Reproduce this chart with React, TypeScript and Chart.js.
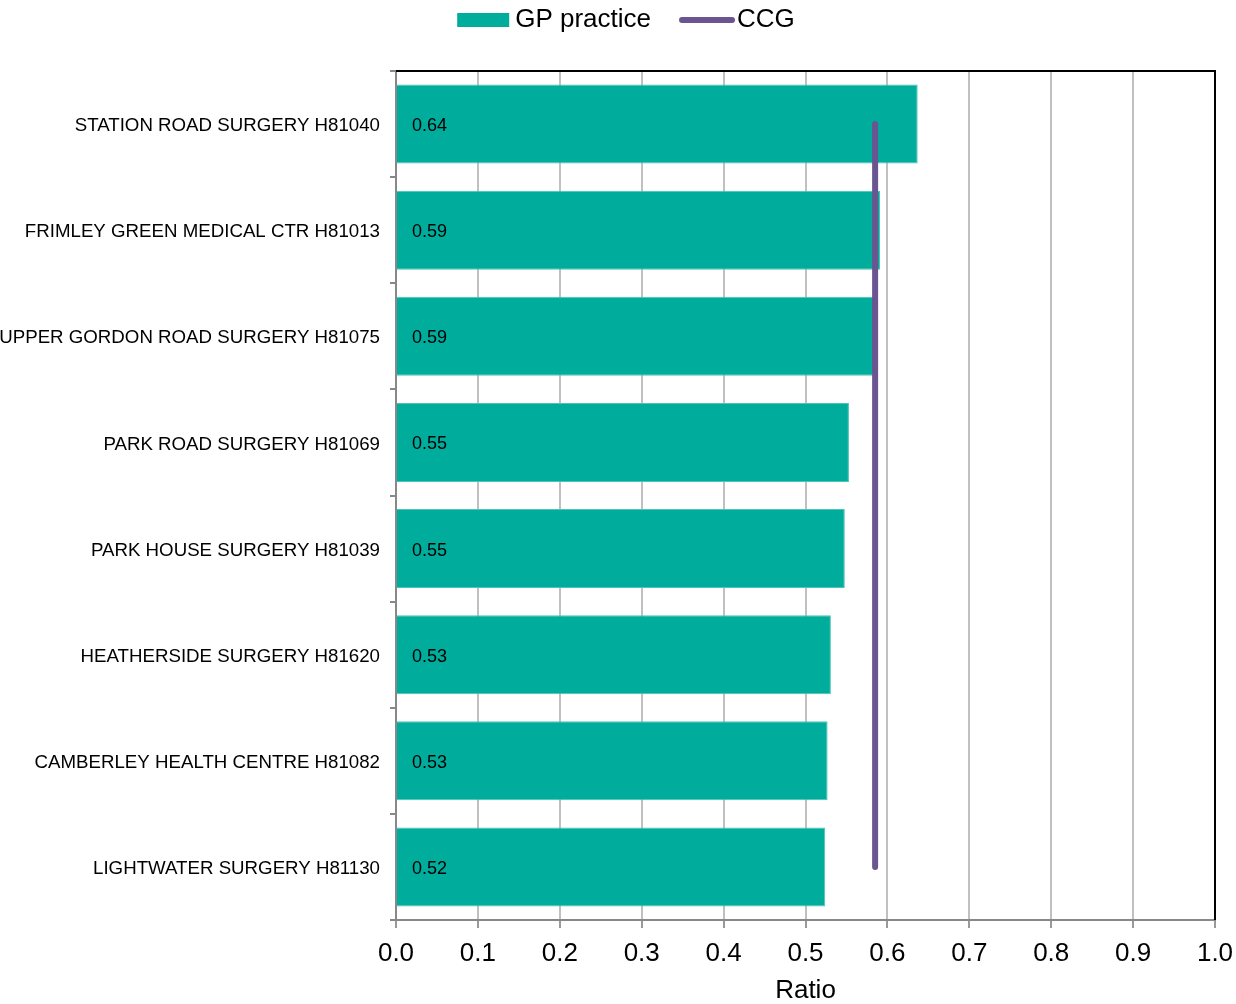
import React, { useEffect, useRef } from 'react';
import { Chart, registerables } from 'chart.js';

Chart.register(...registerables);

const categories = [
  'STATION ROAD SURGERY H81040',
  'FRIMLEY GREEN MEDICAL CTR H81013',
  'UPPER GORDON ROAD SURGERY H81075',
  'PARK ROAD SURGERY H81069',
  'PARK HOUSE SURGERY H81039',
  'HEATHERSIDE SURGERY H81620',
  'CAMBERLEY HEALTH CENTRE H81082',
  'LIGHTWATER SURGERY H81130',
];
const gpValues = [0.637, 0.591, 0.587, 0.553, 0.548, 0.531, 0.527, 0.524];
const ccgValues = [0.585, 0.585, 0.585, 0.585, 0.585, 0.585, 0.585, 0.585];
const seriesNames = ['GP practice', 'CCG'];
const axisTitle = 'Ratio';

const TEAL = '#00AC9C';
const PURPLE = '#6B5591';
const FONT = '"Liberation Sans", Arial, sans-serif';

const extrasPlugin = {
  id: 'extras',
  afterDatasetsDraw(chart: any) {
    const { ctx, chartArea } = chart;
    const meta = chart.getDatasetMeta(0);
    ctx.save();
    ctx.fillStyle = '#000';
    ctx.font = `18px ${FONT}`;
    ctx.textAlign = 'left';
    ctx.textBaseline = 'middle';
    meta.data.forEach((bar: any, i: number) => {
      ctx.fillText(gpValues[i].toFixed(2), chartArea.left + 16, bar.y + 2);
    });
    ctx.restore();
  },
  afterDraw(chart: any) {
    const { ctx, chartArea, width } = chart;
    ctx.save();
    // black top and right border
    ctx.strokeStyle = '#000';
    ctx.lineWidth = 2;
    ctx.beginPath();
    ctx.moveTo(chartArea.left, chartArea.top);
    ctx.lineTo(chartArea.right, chartArea.top);
    ctx.lineTo(chartArea.right, chartArea.bottom);
    ctx.stroke();
    // legend
    ctx.font = `26px ${FONT}`;
    ctx.textBaseline = 'middle';
    ctx.textAlign = 'left';
    const w1 = ctx.measureText(seriesNames[0]).width;
    const w2 = ctx.measureText(seriesNames[1]).width;
    const total = 52 + 6 + w1 + 28 + 56 + 2 + w2;
    let x = width / 2 + 8 - total / 2;
    const y = 20;
    ctx.fillStyle = TEAL;
    ctx.fillRect(x, y - 7, 52, 14);
    x += 58;
    ctx.fillStyle = '#000';
    ctx.fillText(seriesNames[0], x, y);
    x += w1 + 28;
    ctx.strokeStyle = PURPLE;
    ctx.lineWidth = 6;
    ctx.lineCap = 'round';
    ctx.beginPath();
    ctx.moveTo(x + 3, y);
    ctx.lineTo(x + 53, y);
    ctx.stroke();
    x += 58;
    ctx.fillText(seriesNames[1], x, y);
    ctx.restore();
  },
};

export default function App() {
  const ref = useRef<HTMLCanvasElement | null>(null);
  useEffect(() => {
    if (!ref.current) return;
    const chart = new Chart(ref.current, {
      type: 'bar',
      data: {
        labels: categories,
        datasets: [
          {
            type: 'bar',
            label: seriesNames[0],
            data: gpValues,
            backgroundColor: TEAL,
            borderColor: '#4cc4b7',
            borderWidth: 1,
            categoryPercentage: 1,
            barPercentage: 0.745,
            order: 2,
          },
          {
            type: 'line',
            label: seriesNames[1],
            data: ccgValues,
            borderColor: PURPLE,
            borderWidth: 6,
            borderCapStyle: 'round',
            pointRadius: 0,
            fill: false,
            order: 1,
          } as any,
        ],
      },
      options: {
        indexAxis: 'y',
        animation: false,
        responsive: false,
        maintainAspectRatio: false,
        layout: { padding: { top: 71, right: 21, left: 0, bottom: 0 } },
        plugins: {
          legend: { display: false },
          tooltip: { enabled: false },
        },
        scales: {
          x: {
            type: 'linear',
            min: 0,
            max: 1,
            ticks: {
              stepSize: 0.1,
              color: '#000',
              font: { family: FONT, size: 26 },
              padding: 10,
              callback: (v: any) => Number(v).toFixed(1),
            },
            grid: {
              color: '#c0c0c0',
              lineWidth: 2,
              tickLength: 8,
              tickColor: '#999',
            },
            border: { color: '#888', width: 2 },
            title: {
              display: true,
              text: axisTitle,
              color: '#000',
              font: { family: FONT, size: 26 },
              padding: { top: 2, bottom: -2 },
            },
            afterFit: (s: any) => {
              s.height = 84;
              s.paddingLeft = 0;
              s.paddingRight = 0;
            },
          },
          y: {
            type: 'category',
            ticks: {
              color: '#000',
              font: { family: FONT, size: 18.7 },
              padding: 10,
              autoSkip: false,
              labelOffset: 2,
            },
            grid: {
              drawOnChartArea: false,
              tickLength: 6,
              tickColor: '#888',
              lineWidth: 2,
              offset: true,
            },
            border: { color: '#888', width: 2 },
            afterFit: (s: any) => {
              s.width = 396;
              s.paddingTop = 0;
              s.paddingBottom = 0;
            },
          },
        },
      },
      plugins: [extrasPlugin],
    });
    return () => chart.destroy();
  }, []);
  return (
    <div style={{ position: 'absolute', left: 0, top: 0, width: 1236, height: 1004, background: '#fff' }}>
      <canvas ref={ref} width={1236} height={1004} style={{ width: 1236, height: 1004, display: 'block' }} />
    </div>
  );
}
